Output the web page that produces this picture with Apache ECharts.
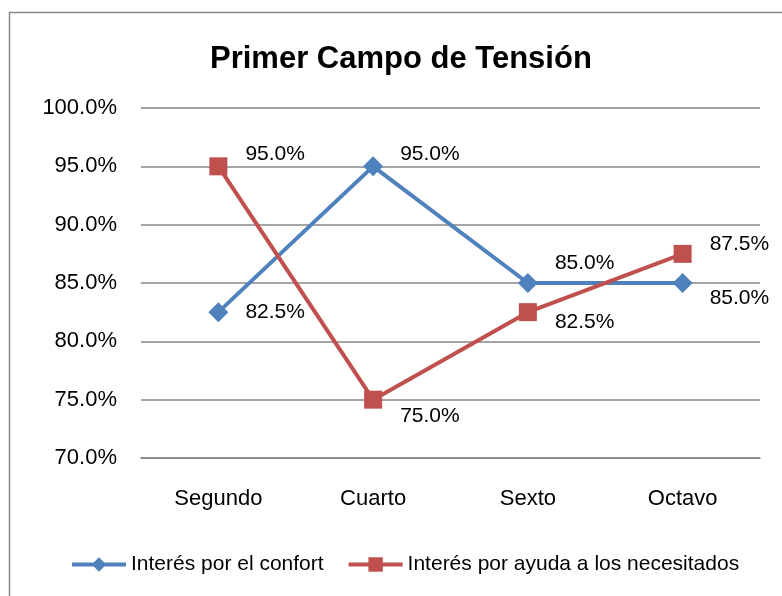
<!DOCTYPE html>
<html>
<head>
<meta charset="utf-8">
<script src="https://cdn.jsdelivr.net/npm/echarts@6/dist/echarts.min.js"></script>
<style>
html,body{margin:0;padding:0;background:#fff;}
#c{width:782px;height:596px;}
</style>
</head>
<body>
<div id="c"></div>
<script>
const categories = ['Segundo', 'Cuarto', 'Sexto', 'Octavo'];
const confort = [82.5, 95.0, 85.0, 85.0];
const ayuda = [95.0, 75.0, 82.5, 87.5];
const seriesNames = ['Interés por el confort', 'Interés por ayuda a los necesitados'];
const titleText = 'Primer Campo de Tensión';

// label vertical nudges (layout only)
const confortLabelDy = [0, -12, -20, 15];
const ayudaLabelDy = [-12, 17, 10, -10];

const FONT = '"Liberation Sans", Arial, sans-serif';

function mkData(vals, dys) {
  return vals.map((v, i) => ({
    value: v,
    label: { offset: [0, dys[i]] }
  }));
}

const chart = echarts.init(document.getElementById('c'), null, {renderer: 'canvas'});
chart.setOption({
  animation: false,
  backgroundColor: '#ffffff',
  graphic: [{
    type: 'rect',
    shape: { x: 9.5, y: 12.5, width: 800, height: 620 },
    style: { fill: 'none', stroke: '#878787', lineWidth: 1.5 },
    silent: true
  }],
  title: {
    text: titleText,
    left: 205,
    top: 39,
    textStyle: { fontFamily: FONT, fontWeight: 'bold', fontSize: 31, color: '#000' }
  },
  grid: { left: 141, right: 22, top: 108, bottom: 138, containLabel: false },
  xAxis: {
    type: 'category',
    data: categories,
    boundaryGap: true,
    axisLine: { show: true, lineStyle: { color: '#878787', width: 1.5 } },
    axisTick: { show: false },
    axisLabel: { fontFamily: FONT, fontSize: 22, color: '#000', margin: 30 }
  },
  yAxis: {
    type: 'value',
    min: 70, max: 100, interval: 5,
    axisLine: { show: false },
    axisTick: { show: false },
    axisLabel: {
      fontFamily: FONT, fontSize: 22, color: '#000', margin: 24,
      formatter: v => v.toFixed(1) + '%'
    },
    splitLine: { lineStyle: { color: '#878787', width: 1.5 } }
  },
  legend: {
    left: 65,
    top: 549,
    itemWidth: 54,
    itemHeight: 18,
    itemGap: 23,
    lineStyle: { width: 4 },
    textStyle: { fontFamily: FONT, fontSize: 21, color: '#000' },
    data: seriesNames
  },
  series: [
    {
      name: seriesNames[0],
      type: 'line',
      data: mkData(confort, confortLabelDy),
      color: '#4F81BD',
      lineStyle: { width: 4, color: '#4F81BD' },
      symbol: 'diamond',
      symbolSize: 20,
      itemStyle: { color: '#4F81BD' },
      label: {
        show: true, position: 'right', distance: 17,
        fontFamily: FONT, fontSize: 21, color: '#000',
        formatter: p => p.value.toFixed(1) + '%'
      },
      z: 3
    },
    {
      name: seriesNames[1],
      type: 'line',
      data: mkData(ayuda, ayudaLabelDy),
      color: '#C0504D',
      lineStyle: { width: 4, color: '#C0504D' },
      symbol: 'rect',
      symbolSize: 18,
      itemStyle: { color: '#C0504D' },
      label: {
        show: true, position: 'right', distance: 18,
        fontFamily: FONT, fontSize: 21, color: '#000',
        formatter: p => p.value.toFixed(1) + '%'
      },
      z: 4
    }
  ]
});
</script>
</body>
</html>
